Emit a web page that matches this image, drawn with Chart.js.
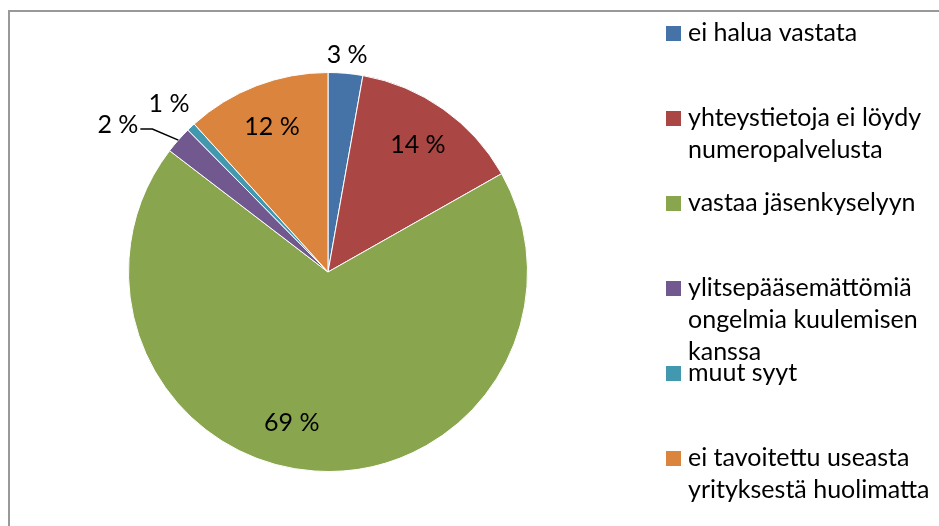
<!DOCTYPE html>
<html>
<head>
<meta charset="utf-8">
<script src="https://cdn.jsdelivr.net/npm/chart.js@4"></script>
<style>
    html, body { margin: 0; padding: 0; background: #fff; }
    #wrap { width: 939px; height: 526px; }
</style>
</head>
<body>
<div id="wrap"><canvas id="chart"></canvas></div>
<script>
// Data
const categories = [
    ['ei halua vastata'],
    ['yhteystietoja ei löydy', 'numeropalvelusta'],
    ['vastaa jäsenkyselyyn'],
    ['ylitsepääsemättömiä', 'ongelmia kuulemisen', 'kanssa'],
    ['muut syyt'],
    ['ei tavoitettu useasta', 'yrityksestä huolimatta']
];
const shares = [2.8, 14.0, 68.6, 2.2, 0.7, 11.7];
const sliceColors = ['#4572A7', '#AA4643', '#89A54E', '#71588F', '#4198AF', '#DB843D'];

// where each percentage label sits: inside, outside, or outside with a leader line
const labelModes = ['out', 'in', 'in', 'leader', 'out', 'in'];
const labelNudge = [0, 0, 9.5, 0, 0, 0]; // degrees, like Excel's best-fit shift

const FONT = '25px Lato, "Open Sans", sans-serif';

const pieLabels = {
    id: 'pieLabels',
    afterDatasetsDraw(chart) {
        const ctx = chart.ctx;
        const arcs = chart.getDatasetMeta(0).data;
        ctx.save();
        ctx.font = FONT;
        ctx.fillStyle = '#000';
        ctx.textBaseline = 'middle';
        arcs.forEach((arc, i) => {
            const { x, y, startAngle, endAngle, outerRadius } = arc.getProps(['x', 'y', 'startAngle', 'endAngle', 'outerRadius'], true);
            const mid = (startAngle + endAngle) / 2 + labelNudge[i] * Math.PI / 180;
            const text = Math.round(shares[i]) + ' %';
            const mode = labelModes[i];
            if (mode === 'in') {
                const r = outerRadius * 0.78;
                ctx.textAlign = 'center';
                ctx.fillText(text, x + Math.cos(mid) * r, y + Math.sin(mid) * r);
            } else if (mode === 'out') {
                const r = outerRadius * (i === 0 ? 1.09 : 1.16);
                ctx.textAlign = 'center';
                ctx.fillText(text, x + Math.cos(mid) * r, y + Math.sin(mid) * r);
            } else {
                const px = x + Math.cos(mid) * outerRadius;
                const py = y + Math.sin(mid) * outerRadius;
                const ex = px - 26, ey = py - 11;
                ctx.strokeStyle = '#000';
                ctx.lineWidth = 1.5;
                ctx.beginPath();
                ctx.moveTo(px, py);
                ctx.lineTo(ex, ey);
                ctx.lineTo(ex - 12, ey);
                ctx.stroke();
                ctx.textAlign = 'right';
                ctx.fillText(text, ex - 14, ey - 4);
            }
        });
        ctx.restore();
    }
};

const sideLegend = {
    id: 'sideLegend',
    afterDraw(chart) {
        const ctx = chart.ctx;
        ctx.save();
        // outer frame of the chart object
        ctx.strokeStyle = '#999';
        ctx.lineWidth = 2;
        ctx.beginPath();
        ctx.moveTo(9, 530);
        ctx.lineTo(9, 11);
        ctx.lineTo(945, 11);
        ctx.stroke();

        ctx.font = FONT;
        ctx.textBaseline = 'middle';
        ctx.textAlign = 'left';
        categories.forEach((lines, i) => {
            const top = 33 + 85 * i;
            ctx.fillStyle = sliceColors[i];
            ctx.fillRect(666, top - 7, 15, 15);
            ctx.fillStyle = '#000';
            lines.forEach((line, j) => ctx.fillText(line, 688, top + 32 * j));
        });
        ctx.restore();
    }
};

new Chart(document.getElementById('chart'), {
    type: 'pie',
    data: {
        labels: categories,
        datasets: [{
            data: shares,
            backgroundColor: sliceColors,
            borderColor: '#fff',
            borderWidth: 1
        }]
    },
    options: {
        responsive: true,
        maintainAspectRatio: false,
        animation: false,
        layout: { padding: { left: 128, top: 72, right: 411, bottom: 54 } },
        plugins: {
            legend: { display: false },
            tooltip: { enabled: false }
        }
    },
    plugins: [pieLabels, sideLegend]
});
</script>
</body>
</html>
